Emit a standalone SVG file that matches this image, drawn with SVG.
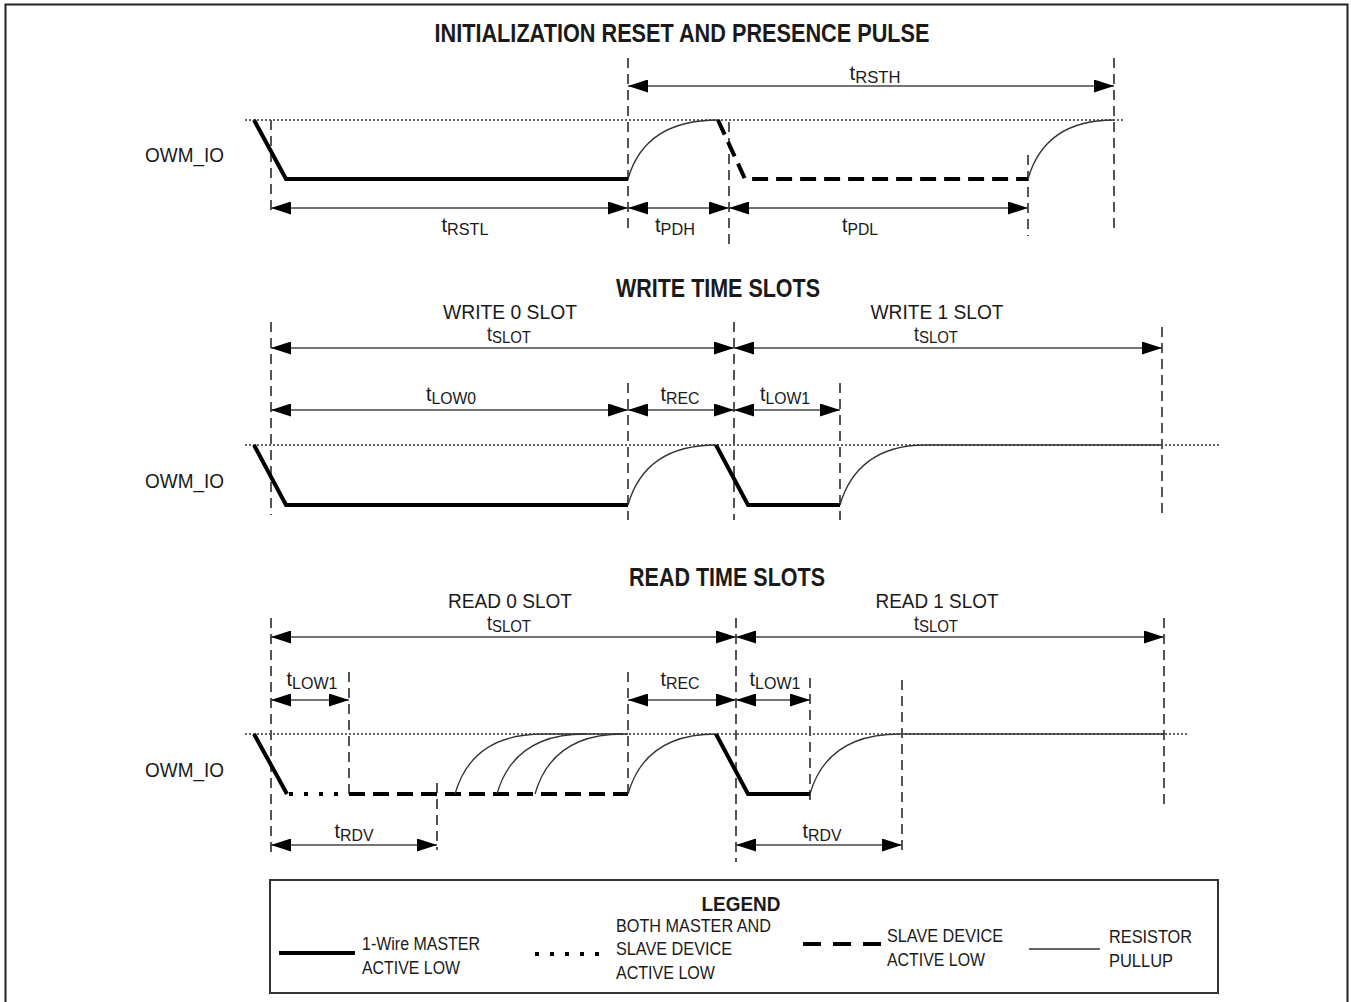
<svg xmlns="http://www.w3.org/2000/svg" width="1351" height="1002" viewBox="0 0 1351 1002">
<defs>
<marker id="ah" viewBox="0 0 20 13" refX="20" refY="6.5" markerUnits="userSpaceOnUse" markerWidth="20" markerHeight="13" orient="auto-start-reverse">
<path d="M0,0 L20,6.5 L0,13 z" fill="#000"/>
</marker>
<style>
.t{font-family:"Liberation Sans Narrow","Liberation Sans",Arial,sans-serif;fill:#1a1a1a}
.title{font-size:25px;font-weight:bold}
.lbl{font-size:21px}
.sl2{font-size:20px}
.s{font-size:17px}
.leg{font-size:18px}
.vd{stroke:#555;stroke-width:2;stroke-dasharray:10 6;fill:none}
.hi{stroke:#333;stroke-width:1.3;stroke-dasharray:2 2;fill:none}
.m{stroke:#000;stroke-width:4;fill:none;stroke-linejoin:miter}
.sl{stroke:#000;stroke-width:4;fill:none;stroke-dasharray:16 8}
.both{stroke:#000;stroke-width:4;fill:none;stroke-dasharray:4 11}
.pu{stroke:#333;stroke-width:1.3;fill:none}
.ar{stroke:#444;stroke-width:1.6;fill:none;marker-start:url(#ah);marker-end:url(#ah)}
</style>
</defs>
<rect width="1351" height="1002" fill="#fff"/>
<rect x="5.5" y="4.5" width="1342" height="1005" fill="none" stroke="#222" stroke-width="2"/>

<g id="init">
<text class="t title" x="682" y="42" text-anchor="middle" textLength="495" lengthAdjust="spacingAndGlyphs">INITIALIZATION RESET AND PRESENCE PULSE</text>
<text class="t lbl" x="145" y="162" textLength="79" lengthAdjust="spacingAndGlyphs">OWM_IO</text>
<line class="hi" x1="245" y1="120" x2="1125" y2="120"/>
<line class="vd" x1="271" y1="120" x2="271" y2="215"/>
<line class="vd" x1="628" y1="58" x2="628" y2="232"/>
<line class="vd" x1="729" y1="122" x2="729" y2="245"/>
<line class="vd" x1="1028" y1="155" x2="1028" y2="236"/>
<line class="vd" x1="1114" y1="58" x2="1114" y2="230"/>
<polyline class="m" points="254,120 286,179 628,179"/>
<path class="pu" d="M628,179 C638,144 665,120 718,120"/>
<polyline class="sl" points="718,120 745,179 1028,179"/>
<path class="pu" d="M1028,179 C1038,144 1064,120 1114,120"/>
<text class="t lbl" x="875" y="80" text-anchor="middle" textLength="51" lengthAdjust="spacingAndGlyphs">t<tspan class="s" dy="3">RSTH</tspan></text>
<text class="t lbl" x="465" y="232" text-anchor="middle" textLength="47" lengthAdjust="spacingAndGlyphs">t<tspan class="s" dy="3">RSTL</tspan></text>
<text class="t lbl" x="675" y="232" text-anchor="middle" textLength="40" lengthAdjust="spacingAndGlyphs">t<tspan class="s" dy="3">PDH</tspan></text>
<text class="t lbl" x="860" y="232" text-anchor="middle" textLength="36" lengthAdjust="spacingAndGlyphs">t<tspan class="s" dy="3">PDL</tspan></text>
</g>

<g id="write">
<text class="t title" x="718" y="297" text-anchor="middle" textLength="204" lengthAdjust="spacingAndGlyphs">WRITE TIME SLOTS</text>
<text class="t sl2" x="510" y="319" text-anchor="middle" textLength="134" lengthAdjust="spacingAndGlyphs">WRITE 0 SLOT</text>
<text class="t sl2" x="937" y="319" text-anchor="middle" textLength="133" lengthAdjust="spacingAndGlyphs">WRITE 1 SLOT</text>
<text class="t sl2" x="509" y="341" text-anchor="middle" textLength="44" lengthAdjust="spacingAndGlyphs">t<tspan class="s" dy="2">SLOT</tspan></text>
<text class="t sl2" x="936" y="341" text-anchor="middle" textLength="44" lengthAdjust="spacingAndGlyphs">t<tspan class="s" dy="2">SLOT</tspan></text>
<text class="t lbl" x="451" y="401" text-anchor="middle" textLength="50" lengthAdjust="spacingAndGlyphs">t<tspan class="s" dy="3">LOW0</tspan></text>
<text class="t lbl" x="680" y="401" text-anchor="middle" textLength="39" lengthAdjust="spacingAndGlyphs">t<tspan class="s" dy="3">REC</tspan></text>
<text class="t lbl" x="785" y="401" text-anchor="middle" textLength="50" lengthAdjust="spacingAndGlyphs">t<tspan class="s" dy="3">LOW1</tspan></text>
<text class="t lbl" x="145" y="488" textLength="79" lengthAdjust="spacingAndGlyphs">OWM_IO</text>
<line class="hi" x1="245" y1="445" x2="1220" y2="445"/>
<line class="vd" x1="271" y1="322" x2="271" y2="515"/>
<line class="vd" x1="628" y1="383" x2="628" y2="520"/>
<line class="vd" x1="734" y1="322" x2="734" y2="520"/>
<line class="vd" x1="840" y1="383" x2="840" y2="520"/>
<line class="vd" x1="1162" y1="327" x2="1162" y2="518"/>
<polyline class="m" points="254,445 286,505 628,505"/>
<path class="pu" d="M628,505 C638,470 664,445 716,445"/>
<polyline class="m" points="716,445 748,505 840,505"/>
<path class="pu" d="M840,505 C850,470 876,445 925,445 L1162,445"/>
</g>

<g id="read">
<text class="t title" x="727" y="586" text-anchor="middle" textLength="196" lengthAdjust="spacingAndGlyphs">READ TIME SLOTS</text>
<text class="t sl2" x="510" y="608" text-anchor="middle" textLength="124" lengthAdjust="spacingAndGlyphs">READ 0 SLOT</text>
<text class="t sl2" x="937" y="608" text-anchor="middle" textLength="123" lengthAdjust="spacingAndGlyphs">READ 1 SLOT</text>
<text class="t sl2" x="509" y="630" text-anchor="middle" textLength="44" lengthAdjust="spacingAndGlyphs">t<tspan class="s" dy="2">SLOT</tspan></text>
<text class="t sl2" x="936" y="630" text-anchor="middle" textLength="44" lengthAdjust="spacingAndGlyphs">t<tspan class="s" dy="2">SLOT</tspan></text>
<text class="t lbl" x="312" y="686" text-anchor="middle" textLength="51" lengthAdjust="spacingAndGlyphs">t<tspan class="s" dy="3">LOW1</tspan></text>
<text class="t lbl" x="680" y="686" text-anchor="middle" textLength="39" lengthAdjust="spacingAndGlyphs">t<tspan class="s" dy="3">REC</tspan></text>
<text class="t lbl" x="775" y="686" text-anchor="middle" textLength="51" lengthAdjust="spacingAndGlyphs">t<tspan class="s" dy="3">LOW1</tspan></text>
<text class="t lbl" x="354" y="838" text-anchor="middle" textLength="39" lengthAdjust="spacingAndGlyphs">t<tspan class="s" dy="3">RDV</tspan></text>
<text class="t lbl" x="822" y="838" text-anchor="middle" textLength="39" lengthAdjust="spacingAndGlyphs">t<tspan class="s" dy="3">RDV</tspan></text>
<text class="t lbl" x="145" y="777" textLength="79" lengthAdjust="spacingAndGlyphs">OWM_IO</text>
<line class="hi" x1="245" y1="734" x2="1188" y2="734"/>
<line class="vd" x1="271" y1="618" x2="271" y2="858"/>
<line class="vd" x1="349" y1="672" x2="349" y2="795"/>
<line class="vd" x1="437" y1="783" x2="437" y2="850"/>
<line class="vd" x1="628" y1="672" x2="628" y2="800"/>
<line class="vd" x1="736" y1="618" x2="736" y2="862"/>
<line class="vd" x1="810" y1="678" x2="810" y2="800"/>
<line class="vd" x1="902" y1="680" x2="902" y2="850"/>
<line class="vd" x1="1164" y1="618" x2="1164" y2="805"/>
<polyline class="m" points="254,734 287,794"/>
<line class="both" x1="289" y1="794" x2="349" y2="794"/>
<line class="sl" x1="349" y1="794" x2="628" y2="794"/>
<path class="pu" d="M455,794 C465,759 491,734 543,734 L628,734"/>
<path class="pu" d="M497,794 C507,759 533,734 585,734"/>
<path class="pu" d="M535,794 C545,759 571,734 623,734"/>
<path class="pu" d="M628,794 C638,759 664,734 716,734"/>
<polyline class="m" points="716,734 748,794 810,794"/>
<path class="pu" d="M810,794 C820,759 846,734 900,734 L1164,734"/>
</g>

<g id="connectors">
<line class="ar" x1="628" y1="86" x2="1114" y2="86"/>
<line class="ar" x1="271" y1="208" x2="628" y2="208"/>
<line class="ar" x1="628" y1="208" x2="729" y2="208"/>
<line class="ar" x1="729" y1="208" x2="1028" y2="208"/>
<line class="ar" x1="271" y1="348" x2="734" y2="348"/>
<line class="ar" x1="734" y1="348" x2="1162" y2="348"/>
<line class="ar" x1="271" y1="410" x2="628" y2="410"/>
<line class="ar" x1="628" y1="410" x2="734" y2="410"/>
<line class="ar" x1="734" y1="410" x2="840" y2="410"/>
<line class="ar" x1="271" y1="637" x2="736" y2="637"/>
<line class="ar" x1="736" y1="637" x2="1164" y2="637"/>
<line class="ar" x1="271" y1="700" x2="349" y2="700"/>
<line class="ar" x1="628" y1="700" x2="736" y2="700"/>
<line class="ar" x1="736" y1="700" x2="810" y2="700"/>
<line class="ar" x1="271" y1="845" x2="437" y2="845"/>
<line class="ar" x1="736" y1="845" x2="902" y2="845"/>
</g>

<g id="legend">
<rect x="270" y="880" width="948" height="113" fill="none" stroke="#333" stroke-width="2"/>
<text class="t title" x="741" y="911" text-anchor="middle" style="font-size:21px" textLength="79" lengthAdjust="spacingAndGlyphs">LEGEND</text>
<line class="m" x1="279" y1="953" x2="355" y2="953"/>
<text class="t leg" x="362" y="950" textLength="118" lengthAdjust="spacingAndGlyphs">1-Wire MASTER</text>
<text class="t leg" x="362" y="974" textLength="98" lengthAdjust="spacingAndGlyphs">ACTIVE LOW</text>
<line class="both" x1="535" y1="954" x2="600" y2="954"/>
<text class="t leg" x="616" y="932" textLength="155" lengthAdjust="spacingAndGlyphs">BOTH MASTER AND</text>
<text class="t leg" x="616" y="955" textLength="116" lengthAdjust="spacingAndGlyphs">SLAVE DEVICE</text>
<text class="t leg" x="616" y="979" textLength="99" lengthAdjust="spacingAndGlyphs">ACTIVE LOW</text>
<line class="m" x1="803" y1="944" x2="881" y2="944" stroke-dasharray="18 12"/>
<text class="t leg" x="887" y="942" textLength="116" lengthAdjust="spacingAndGlyphs">SLAVE DEVICE</text>
<text class="t leg" x="887" y="966" textLength="98" lengthAdjust="spacingAndGlyphs">ACTIVE LOW</text>
<line class="pu" x1="1029" y1="949" x2="1100" y2="949" stroke="#777" stroke-width="1.6"/>
<text class="t leg" x="1109" y="943" textLength="83" lengthAdjust="spacingAndGlyphs">RESISTOR</text>
<text class="t leg" x="1109" y="967" textLength="64" lengthAdjust="spacingAndGlyphs">PULLUP</text>
</g>
</svg>
